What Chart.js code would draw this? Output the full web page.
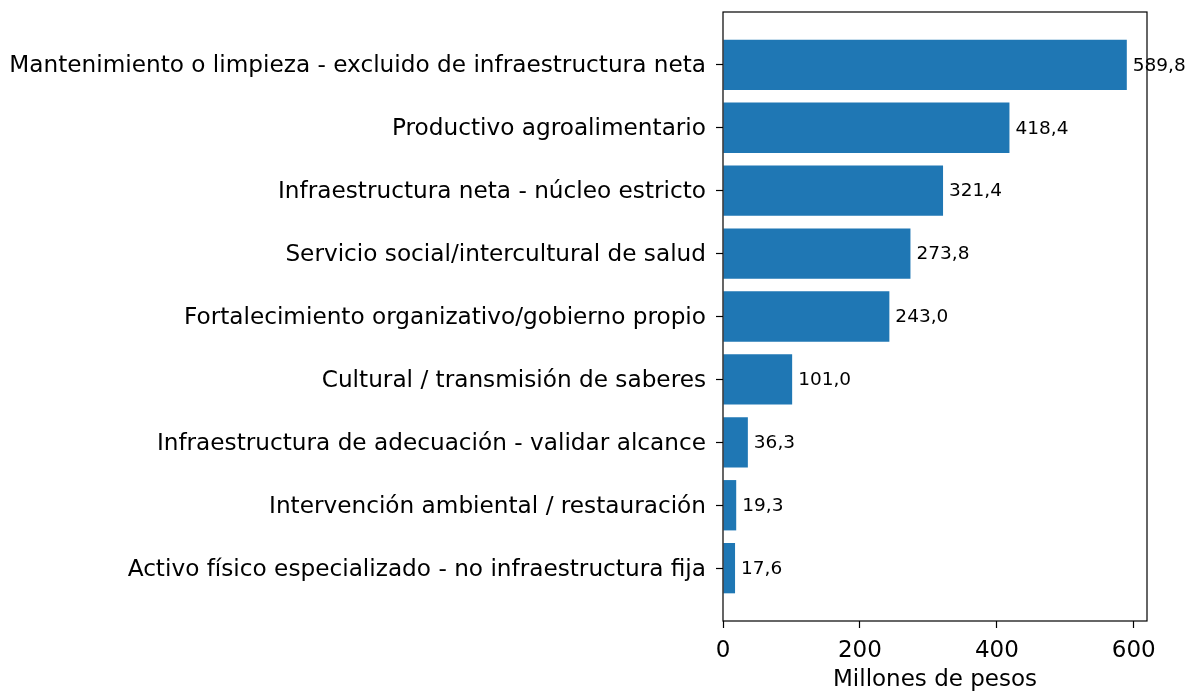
<!DOCTYPE html>
<html>
<head>
<meta charset="utf-8">
<script src="https://cdn.jsdelivr.net/npm/chart.js@4/dist/chart.umd.min.js"></script>
<style>
  html, body { margin: 0; padding: 0; background: #fff; }
  canvas { display: block; }
</style>
</head>
<body>
<canvas id="barChart" width="1188" height="693"></canvas>
<script>
// Categories, top to bottom
const categories = [
  "Mantenimiento o limpieza - excluido de infraestructura neta",
  "Productivo agroalimentario",
  "Infraestructura neta - núcleo estricto",
  "Servicio social/intercultural de salud",
  "Fortalecimiento organizativo/gobierno propio",
  "Cultural / transmisión de saberes",
  "Infraestructura de adecuación - validar alcance",
  "Intervención ambiental / restauración",
  "Activo físico especializado - no infraestructura fija"
];
// Millones de pesos
const amounts = [589.8, 418.4, 321.4, 273.8, 243.0, 101.0, 36.3, 19.3, 17.6];
const xTicks = [0, 200, 400, 600];
const xTitle = "Millones de pesos";

const FONT = "'DejaVu Sans', sans-serif";

// value labels at the end of each bar, comma decimals
const barLabels = {
  id: "barLabels",
  afterDatasetsDraw(chart) {
    const ctx = chart.ctx;
    const meta = chart.getDatasetMeta(0);
    ctx.save();
    ctx.font = "18.5px " + FONT;
    ctx.fillStyle = "#000";
    ctx.textAlign = "left";
    ctx.textBaseline = "middle";
    meta.data.forEach((bar, i) => {
      ctx.fillText(amounts[i].toFixed(1).replace(".", ","), bar.x + 6, bar.y + 1);
    });
    ctx.restore();
  }
};

// box around the plot area like matplotlib spines
const frame = {
  id: "frame",
  afterDraw(chart) {
    const a = chart.chartArea;
    const ctx = chart.ctx;
    ctx.save();
    ctx.strokeStyle = "#000";
    ctx.lineWidth = 1.2;
    ctx.strokeRect(a.left, a.top, a.right - a.left, a.bottom - a.top);
    ctx.restore();
  }
};

new Chart(document.getElementById("barChart"), {
  type: "bar",
  data: {
    datasets: [{
      data: amounts.map((v, i) => ({ x: v, y: i })),
      backgroundColor: "#1f77b4",
      borderWidth: 0,
      barPercentage: 0.8,
      categoryPercentage: 1.0
    }]
  },
  options: {
    indexAxis: "y",
    responsive: false,
    animation: false,
    layout: {
      padding: { top: 12, right: 41, left: 0, bottom: 0 }
    },
    scales: {
      x: {
        type: "linear",
        min: 0,
        max: 619.3,
        afterBuildTicks: (scale) => { scale.ticks = xTicks.map(v => ({ value: v })); },
        afterFit: (scale) => { scale.height = 72; },
        border: { display: false },
        grid: { drawOnChartArea: false, tickLength: 7, tickColor: "#000", tickWidth: 1.2 },
        ticks: { color: "#000", font: { family: FONT, size: 23 }, padding: 9, maxRotation: 0 },
        title: {
          display: true,
          text: xTitle,
          color: "#000",
          font: { family: FONT, size: 23 },
          padding: { top: 0, bottom: -1 }
        }
      },
      y: {
        type: "linear",
        min: -0.84,
        max: 8.84,
        reverse: true,
        offset: false,
        afterBuildTicks: (scale) => { scale.ticks = categories.map((c, i) => ({ value: i })); },
        afterFit: (scale) => {
          scale.width = 723;
          scale.paddingTop = 0;
          scale.paddingBottom = 0;
        },
        border: { display: false },
        grid: { offset: false, drawOnChartArea: false, tickLength: 7, tickColor: "#000", tickWidth: 1.2 },
        ticks: {
          color: "#000",
          font: { family: FONT, size: 23.2 },
          padding: 10,
          labelOffset: 1.5,
          autoSkip: false,
          callback: (v) => categories[v]
        }
      }
    },
    plugins: {
      legend: { display: false },
      tooltip: { enabled: false }
    }
  },
  plugins: [barLabels, frame]
});
</script>
</body>
</html>
